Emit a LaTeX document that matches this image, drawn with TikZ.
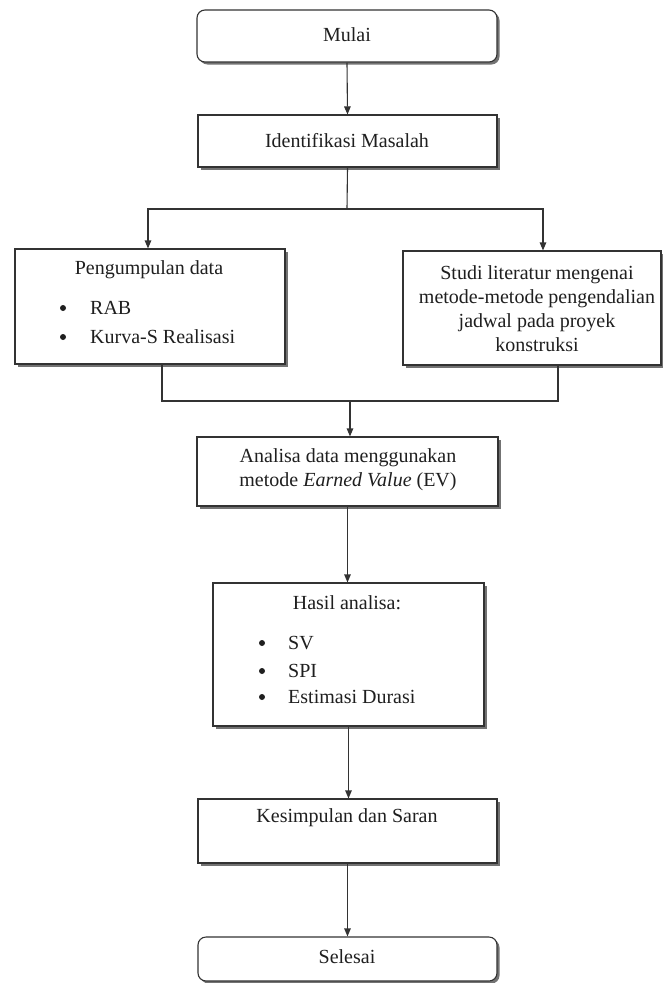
\documentclass[tikz,border=0pt]{standalone}
\usepackage{fontspec}
\setmainfont{Liberation Serif}
\usetikzlibrary{shadows,arrows.meta}
\tikzset{
  boxshape/.style={draw=black!80, line width=1.1pt, fill=white, inner sep=0pt,
    drop shadow={shadow xshift=2.5pt, shadow yshift=-2.5pt, fill=black!55, opacity=1}},
  roundbox/.style={boxshape, rounded corners=8pt},
  txt/.style={font=\fontsize{20}{24}\selectfont, text=black!88, inner sep=0pt, align=center},
  lft/.style={txt, anchor=west, align=left},
  blt/.style={circle, fill=black!88, inner sep=0pt, minimum size=6pt},
  conn/.style={draw=black!80, line width=1.1pt},
  arr/.style={conn, -{Triangle[length=8pt,width=6.5pt]}},
}
\begin{document}
\begin{tikzpicture}[x=1pt,y=-1pt]
\useasboundingbox (0,0) rectangle (663,983);
% boxes
\node[roundbox, minimum width=300pt, minimum height=52pt] (mulai) at (347,36) {};
\node[boxshape, minimum width=299pt, minimum height=52pt] (ident) at (347.5,141) {};
\node[boxshape, minimum width=270pt, minimum height=115pt] (peng) at (150,306.5) {};
\node[boxshape, minimum width=258pt, minimum height=114pt] (studi) at (532,308) {};
\node[boxshape, minimum width=301pt, minimum height=69pt] (anal) at (347.5,471.5) {};
\node[boxshape, minimum width=271pt, minimum height=143pt] (hasil) at (348.5,654.5) {};
\node[boxshape, minimum width=299pt, minimum height=64pt] (kes) at (347.5,831) {};
\node[roundbox, minimum width=299pt, minimum height=44pt] (sel) at (347.5,959) {};
% texts
\node[txt] (tmulai) at (347,35) {Mulai};
\node[txt] (tident) at (347,141) {Identifikasi Masalah};
\node[txt] (tpeng) at (149,270) {Pengumpulan data};
\node[blt] (b1) at (63,308) {};
\node[lft] (trab) at (90,308) {RAB};
\node[blt] (b2) at (63,337) {};
\node[lft] (tkur) at (90,337) {Kurva-S Realisasi};
\node[txt] (tstudi) at (537,309) {Studi literatur mengenai\\metode-metode pengendalian\\jadwal pada proyek\\konstruksi};
\node[txt] (tanal) at (348,470) {Analisa data menggunakan\\metode \textit{Earned Value} (EV)};
\node[txt] (thasil) at (347,603) {Hasil analisa:};
\node[blt] (b3) at (262,643) {};
\node[lft] (tsv) at (288,643) {SV};
\node[blt] (b4) at (262,671) {};
\node[lft] (tspi) at (288,671) {SPI};
\node[blt] (b5) at (262,697) {};
\node[lft] (test) at (288,697) {Estimasi Durasi};
\node[txt] (tkes) at (347,818) {Kesimpulan dan Saran};
\node[txt] (tsel) at (347,957) {Selesai};
% connectors
\draw[arr] (mulai.south) -- (ident.north);
\coordinate (sp) at (347,209);
\coordinate (sl) at (148,209);
\coordinate (sr) at (543,209);
\draw[conn] (ident.south) -- (sp);
\draw[arr] (sp) -- (sl) -- (sl |- peng.north);
\draw[arr] (sp) -- (sr) -- (sr |- studi.north);
\coordinate (pb) at (162,401);
\coordinate (sb) at (558,401);
\coordinate (mg) at (350,401);
\draw[conn] (pb |- peng.south) -- (pb) -- (sb) -- (sb |- studi.south);
\draw[arr] (mg) -- (mg |- anal.north);
\draw[arr] (anal.south) -- (hasil.north -| anal.south);
\draw[arr] (hasil.south) -- (kes.north -| hasil.south);
\draw[arr] (kes.south) -- (sel.north);
\end{tikzpicture}
\end{document}
